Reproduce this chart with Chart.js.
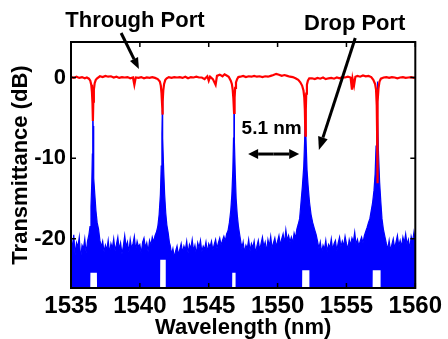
<!DOCTYPE html>
<html><head><meta charset="utf-8">
<script src="https://cdn.jsdelivr.net/npm/chart.js@4.4.0/dist/chart.umd.min.js"></script>
<style>html,body{margin:0;padding:0;background:#fff;}#wrap{width:448px;height:339px;position:relative;}</style>
</head><body><div id="wrap"><canvas id="c" width="448" height="339"></canvas></div>
<script>
// ---- data ----
const xTicks = [1535, 1540, 1545, 1550, 1555, 1560];
const yTicks = [0, -10, -20];

// Through port (red) wavelength / transmittance
const throughWl = [1535.0,1535.2,1535.4,1535.6,1535.8,1536.0,1536.15,1536.3,1536.4,1536.47,1536.52,1536.56,1536.59,1536.62,1536.66,1536.72,1536.8,1536.9,
1537.1,1537.3,1537.5,1537.7,1537.9,1538.1,1538.3,1538.5,1538.7,1538.9,1539.1,1539.3,1539.5,1539.6,1539.7,1539.9,1540.1,1540.3,1540.5,1540.7,1540.9,1541.1,1541.3,
1541.45,1541.52,1541.57,1541.61,1541.64,1541.67,1541.7,1541.76,1541.85,1541.95,
1542.1,1542.3,1542.5,1542.7,1542.9,1543.1,1543.3,1543.5,1543.7,1543.9,1544.1,1544.3,1544.5,1544.7,1544.9,1545.0,1545.1,1545.3,1545.5,1545.6,1545.8,1546.0,1546.15,1546.3,1546.45,1546.6,
1546.68,1546.74,1546.79,1546.84,1546.88,1546.92,1546.98,1547.06,1547.15,
1547.3,1547.5,1547.7,1547.9,1548.1,1548.3,1548.5,1548.7,1548.9,1549.1,1549.3,1549.5,1549.7,1549.9,1550.1,1550.3,1550.5,1550.7,1550.9,1551.1,1551.3,1551.5,1551.65,
1551.78,1551.88,1551.94,1551.98,1552.02,1552.05,1552.08,1552.13,1552.2,1552.3,
1552.5,1552.7,1552.9,1553.1,1553.3,1553.5,1553.7,1553.9,1554.1,1554.3,1554.5,1554.7,1554.9,1555.1,1555.3,1555.4,1555.45,1555.55,1555.65,1555.8,1556.0,1556.2,1556.4,1556.6,1556.8,1556.95,
1557.08,1557.15,1557.2,1557.22,1557.24,1557.26,1557.28,1557.33,1557.4,1557.5,
1557.7,1557.9,1558.1,1558.3,1558.5,1558.7,1558.9,1559.1,1559.3,1559.5,1559.7,1559.9,1560.0];
const throughDb = [0.05,-0.05,0.1,-0.05,0.05,-0.1,0,-0.15,-0.4,-0.9,-1.8,-3.2,-5.4,-3,-1.5,-0.7,-0.3,-0.1,
0.15,0.05,0.2,0.1,0.15,0,0.1,-0.05,0.05,0,0.05,-0.1,0,-0.9,0,-0.05,0.05,-0.1,0,-0.05,0.05,-0.05,-0.2,
-0.5,-1,-1.9,-3.2,-4.6,-3,-1.6,-0.8,-0.3,-0.1,
0.05,-0.05,0.05,0,0.05,-0.05,0.1,-0.1,0.05,0,0.1,0,0,-0.2,0.15,-0.4,0.1,-0.2,-0.9,0.2,0.35,0.15,0.4,0.25,0.1,-0.4,
-0.8,-1.5,-2.6,-4.4,-2.5,-1.3,-0.6,-0.2,0.05,
0.1,0.2,0.05,0.15,0.1,0.2,0.1,0.15,0.05,0.15,0.1,0.2,0.3,0.45,0.35,0.2,0.3,0.2,0.1,0.05,-0.1,-0.3,-0.6,
-1,-1.6,-2.5,-4,-7.2,-4,-2,-0.9,-0.4,-0.1,
-0.1,-0.2,-0.05,-0.15,0,-0.2,-0.1,-0.05,-0.15,0,-0.1,0.05,0,0.1,0,-1.5,-0.2,-1,0.1,0.2,0.1,0.25,0.15,0.2,0.05,-0.3,
-0.8,-1.5,-3.5,-6,-13.1,-6,-3,-1.3,-0.5,-0.15,
0,0.05,-0.05,0.05,0,-0.1,0,0.05,-0.05,0,0.05,-0.05,0];

// Drop port (blue) upper trace
const dropWl = [1535.0,1535.1,1535.2,1535.3,1535.4,1535.5,1535.6,1535.7,1535.8,1535.9,1536.0,1536.1,1536.2,1536.3,
1536.38,1536.45,1536.51,1536.55,1536.57,1536.59,1536.61,1536.63,1536.67,1536.73,1536.81,1536.9,1537.0,1537.1,
1537.2,1537.3,1537.4,1537.5,1537.6,1537.7,1537.8,1537.9,1538.0,1538.1,1538.2,1538.3,1538.4,1538.5,1538.6,1538.7,1538.8,1538.9,1539.0,1539.1,1539.2,1539.3,1539.4,1539.5,1539.6,1539.7,1539.8,1539.9,1540.0,1540.1,1540.2,1540.3,1540.4,1540.5,1540.6,1540.7,1540.8,1540.9,1541.0,1541.1,1541.2,
1541.3,1541.4,1541.49,1541.55,1541.6,1541.63,1541.64,1541.65,1541.68,1541.73,1541.8,1541.88,1541.96,1542.05,1542.15,
1542.2,1542.3,1542.4,1542.5,1542.6,1542.7,1542.8,1542.9,1543.0,1543.1,1543.2,1543.3,1543.4,1543.5,1543.6,1543.7,1543.8,1543.9,1544.0,1544.1,1544.2,1544.3,1544.4,1544.5,1544.6,1544.7,1544.8,1544.9,1545.0,1545.1,1545.2,1545.3,1545.4,1545.5,1545.6,1545.7,1545.8,1545.9,1546.0,1546.1,1546.2,1546.3,1546.4,
1546.5,1546.6,1546.68,1546.75,1546.8,1546.83,1546.84,1546.85,1546.88,1546.93,1546.99,1547.07,1547.16,1547.25,1547.35,
1547.4,1547.5,1547.6,1547.7,1547.8,1547.9,1548.0,1548.1,1548.2,1548.3,1548.4,1548.5,1548.6,1548.7,1548.8,1548.9,1549.0,1549.1,1549.2,1549.3,1549.4,1549.5,1549.6,1549.7,1549.8,1549.9,1550.0,1550.1,1550.2,1550.3,1550.4,1550.5,1550.6,1550.7,1550.8,1550.9,1551.0,1551.1,1551.2,1551.3,1551.4,1551.5,1551.6,
1551.7,1551.8,1551.9,1551.96,1552.0,1552.02,1552.04,1552.08,1552.14,1552.22,1552.32,1552.43,1552.55,1552.68,1552.8,1552.9,
1553.0,1553.1,1553.2,1553.3,1553.4,1553.5,1553.6,1553.7,1553.8,1553.9,1554.0,1554.1,1554.2,1554.3,1554.4,1554.5,1554.6,1554.7,1554.8,1554.9,1555.0,1555.1,1555.2,1555.3,1555.4,1555.5,1555.6,1555.7,1555.8,1555.9,1556.0,1556.1,1556.2,1556.3,1556.4,1556.5,1556.6,
1556.7,1556.8,1556.9,1557.0,1557.08,1557.15,1557.2,1557.23,1557.24,1557.25,1557.28,1557.33,1557.41,1557.5,1557.58,1557.68,1557.8,
1557.9,1558.0,1558.1,1558.2,1558.3,1558.4,1558.5,1558.6,1558.7,1558.8,1558.9,1559.0,1559.1,1559.2,1559.3,1559.4,1559.5,1559.6,1559.7,1559.8,1559.9,1560.0];
const dropDb = [-19.2,-21.5,-19.5,-22,-20.5,-21,-19.8,-22.5,-20.8,-21.2,-20,-21.8,-20.3,-19.5,
-18.5,-16,-13,-9.5,-6.5,-3,-6,-9.5,-12.5,-14.5,-16.5,-18,-18.8,-20.2,
-21,-20.3,-21.6,-20.8,-21.4,-20.2,-21.8,-20.6,-21.2,-20,-21.5,-20.7,-19.8,-21.3,-20.5,-21.9,-20.9,-19.6,-21,-20.4,-21.7,-20.1,-21.2,-20.6,-19.7,-21.4,-20.3,-21,-20.7,-21.8,-20.4,-19.9,-21.1,-20.5,-21.6,-20.2,-20.8,-19.8,-20.4,-19.6,-19.2,
-18.5,-17,-14.5,-11,-7,-4,-2.5,-4,-7.5,-11.5,-14.5,-16.8,-18.3,-19.2,-20.5,
-20.8,-21.9,-21.2,-22.3,-21.5,-20.9,-22,-21.3,-20.6,-21.7,-20.9,-21.4,-20.3,-21.8,-20.7,-21.2,-20.1,-21.5,-20.8,-21.9,-20.5,-21.1,-20.2,-21.6,-20.9,-21.3,-20.4,-21.7,-20.6,-21,-20.3,-21.4,-20.7,-20.1,-21.2,-20.5,-19.9,-20.8,-20.2,-19.7,-20.3,-19.4,-19,
-18,-16.5,-14.5,-11.5,-7.5,-4,-2.5,-4,-8,-12,-15,-17,-18.5,-19.5,-20.6,
-21.3,-20.4,-21.7,-20.8,-21.2,-20.1,-21.5,-20.6,-21.1,-20.3,-21.8,-20.9,-20.2,-21.4,-20.6,-19.8,-21,-20.4,-21.6,-20.1,-20.9,-19.7,-21.2,-20.5,-19.9,-21,-20.3,-19.6,-20.8,-20,-19.4,-20.6,-18.9,-20.2,-19.6,-20.4,-19.8,-20.5,-19.3,-19.9,-18.8,-18.2,-17.5,
-15.5,-13.5,-11,-8,-5.5,-4,-5.5,-8.5,-11.5,-13.5,-15.5,-17,-18,-18.8,-19.5,-20.3,
-21.2,-20.4,-21.7,-20.8,-21.3,-20.2,-21.6,-20.7,-21.1,-20,-21.4,-20.6,-20.2,-21.5,-20.5,-19.8,-21,-20.3,-20.9,-19.7,-20.6,-21.3,-20.1,-20.8,-19.9,-20.4,-19.2,-20.7,-20.1,-20.9,-20.3,-19.8,-20.5,-19.6,-19.1,-18.6,-18,
-17.5,-16.5,-15.5,-14,-12,-8.5,-4.5,-1.5,-0.5,-1.5,-5,-9.5,-13,-15.5,-17.5,-18.8,-19.8,
-20.6,-21.3,-20.2,-21.5,-20.7,-20,-21.2,-20.4,-19.6,-20.9,-20.2,-21,-19.8,-20.5,-19.4,-20.7,-20.1,-21.3,-19.7,-20.4,-19.2,-20.3];

// Drop port (blue) lower trace: noise floor reaches the bottom except right under each peak
const floorWl = [1535,1536.40,1536.41,1536.88,1536.89,1541.47,1541.48,1541.88,1541.89,1546.70,1546.71,1546.95,1546.96,1551.78,1551.79,1552.31,1552.32,1556.90,1556.91,1557.48,1557.49,1560];
const floorDb = [-26.1,-26.1,-24.2,-24.2,-26.1,-26.1,-22.6,-22.6,-26.1,-26.1,-24.2,-24.2,-26.1,-26.1,-23.9,-23.9,-26.1,-26.1,-23.9,-23.9,-26.1,-26.1];

// ---- annotations (in data coordinates) ----
const labels = [
  {text: 'Through Port', x: 1539.64, y: 6.32, size: 22},
  {text: 'Drop Port', x: 1555.6, y: 5.89, size: 22},
  {text: '5.1 nm', x: 1549.57, y: -7.01, size: 19}
];
const arrows = [
  {x0: 1538.64, y0: 5.52, x1: 1539.93, y1: 1.06, both: false, head: 11, w: 9},
  {x0: 1555.64, y0: 4.9, x1: 1553.0, y1: -8.99, both: false, head: 13, w: 10},
  {x0: 1547.86, y0: -9.49, x1: 1551.57, y1: -9.49, both: true, head: 10, w: 10}
];

const FONT = "'Liberation Sans', Arial, sans-serif";
const pts = (xs, ys) => xs.map((x, i) => ({x: x, y: ys[i]}));

function drawArrow(ctx, x0, y0, x1, y1, head, w) {
  const a = Math.atan2(y1 - y0, x1 - x0);
  const bx = x1 - head * Math.cos(a), by = y1 - head * Math.sin(a);
  ctx.beginPath(); ctx.moveTo(x0, y0); ctx.lineTo(bx, by); ctx.stroke();
  ctx.beginPath(); ctx.moveTo(x1, y1);
  ctx.lineTo(bx + w / 2 * Math.sin(a), by - w / 2 * Math.cos(a));
  ctx.lineTo(bx - w / 2 * Math.sin(a), by + w / 2 * Math.cos(a));
  ctx.closePath(); ctx.fill();
}

const framePlugin = {
  id: 'frame',
  afterDatasetsDraw(chart) {
    const {ctx, chartArea: a, scales: {x, y}} = chart;
    ctx.save();
    ctx.strokeStyle = '#000';
    ctx.lineWidth = 1.5;
    ctx.beginPath();
    xTicks.forEach(v => { const p = x.getPixelForValue(v);
      ctx.moveTo(p, a.top); ctx.lineTo(p, a.top + 5);
      ctx.moveTo(p, a.bottom); ctx.lineTo(p, a.bottom - 5); });
    yTicks.forEach(v => { const p = y.getPixelForValue(v);
      ctx.moveTo(a.left, p); ctx.lineTo(a.left + 5, p);
      ctx.moveTo(a.right, p); ctx.lineTo(a.right - 5, p); });
    ctx.stroke();
    ctx.lineWidth = 2;
    ctx.strokeRect(a.left, a.top, a.right - a.left, a.bottom - a.top);
    ctx.restore();
  },
  afterDraw(chart) {
    const {ctx, scales: {x, y}} = chart;
    ctx.save();
    ctx.fillStyle = '#000'; ctx.strokeStyle = '#000'; ctx.lineWidth = 3;
    ctx.textAlign = 'center'; ctx.textBaseline = 'alphabetic';
    labels.forEach(l => {
      ctx.font = 'bold ' + l.size + 'px ' + FONT;
      ctx.fillText(l.text, x.getPixelForValue(l.x), y.getPixelForValue(l.y));
    });
    arrows.forEach(r => {
      const x0 = x.getPixelForValue(r.x0), y0 = y.getPixelForValue(r.y0);
      const x1 = x.getPixelForValue(r.x1), y1 = y.getPixelForValue(r.y1);
      if (r.both) {
        const mx = (x0 + x1) / 2, my = (y0 + y1) / 2;
        drawArrow(ctx, mx, my, x1, y1, r.head, r.w);
        drawArrow(ctx, mx, my, x0, y0, r.head, r.w);
      } else {
        drawArrow(ctx, x0, y0, x1, y1, r.head, r.w);
      }
    });
    ctx.restore();
  }
};

new Chart(document.getElementById('c'), {
  type: 'line',
  data: {
    datasets: [
      {label: 'Through Port', data: pts(throughWl, throughDb), borderColor: '#ff0000', borderWidth: 2.2, pointRadius: 0, fill: false, tension: 0},
      {label: 'Drop Port', data: pts(dropWl, dropDb), borderColor: '#0000ff', borderWidth: 1.2, pointRadius: 0, tension: 0,
       backgroundColor: '#0000ff', fill: {target: 2}},
      {label: 'Drop floor', data: pts(floorWl, floorDb), borderColor: 'rgba(0,0,0,0)', borderWidth: 0, pointRadius: 0, fill: false, tension: 0}
    ]
  },
  options: {
    responsive: false,
    animation: false,
    events: [],
    layout: {padding: {top: 42, right: 27, left: 0, bottom: 0}},
    plugins: {legend: {display: false}, tooltip: {enabled: false}},
    scales: {
      x: {
        type: 'linear', min: 1535, max: 1560,
        afterBuildTicks: s => { s.ticks = xTicks.map(v => ({value: v})); },
        afterFit: s => { s.height = 51; },
        grid: {display: false, drawTicks: false}, border: {display: false},
        ticks: {autoSkip: false, maxRotation: 0, padding: 6, color: '#000',
          callback: v => String(v),
          font: {family: FONT, size: 24, weight: 'bold', lineHeight: 1}},
        title: {display: true, text: 'Wavelength (nm)', color: '#000', padding: {top: 0, bottom: 0},
          font: {family: FONT, size: 22, weight: 'bold', lineHeight: 1}}
      },
      y: {
        type: 'linear', min: -26.1, max: 4.4,
        afterBuildTicks: s => { s.ticks = yTicks.map(v => ({value: v})); },
        afterFit: s => { s.width = 71; },
        grid: {display: false, drawTicks: false}, border: {display: false},
        ticks: {padding: 5, color: '#000', callback: v => String(v),
          font: {family: FONT, size: 22, weight: 'bold', lineHeight: 1}},
        title: {display: true, text: 'Transmittance (dB)', color: '#000', padding: {top: 10, bottom: 0},
          font: {family: FONT, size: 22, weight: 'bold', lineHeight: 1}}
      }
    }
  },
  plugins: [framePlugin]
});
</script>
</body></html>
